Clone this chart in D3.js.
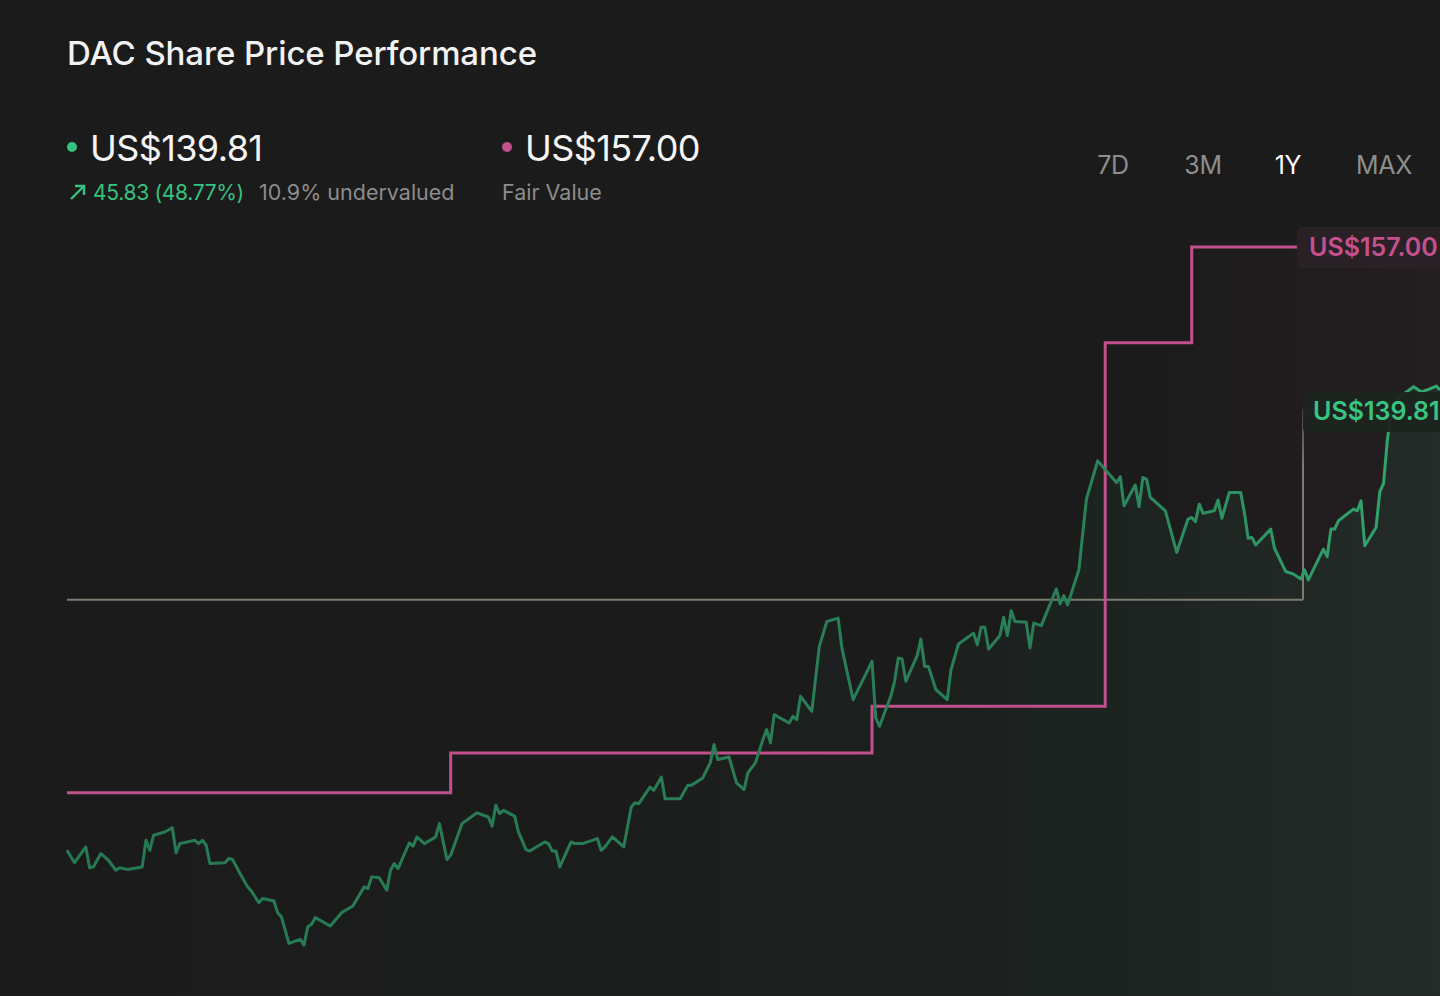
<!DOCTYPE html>
<html>
<head>
<meta charset="utf-8">
<script src="https://cdn.jsdelivr.net/npm/d3@7"></script>
<style>
  html, body { margin: 0; padding: 0; background: #1b1b1b; }
  svg { display: block; }
  text { font-family: Inter, "Noto Sans", sans-serif; }
</style>
</head>
<body>
<svg id="chart" width="1440" height="996"></svg>
<script>
// ---------------- DATA ----------------
const title = "DAC Share Price Performance";
const currentPrice = 139.81;
const priceChange = 45.83;
const priceChangePct = 48.77;
const fairValue = 157.00;
const undervaluedPct = 10.9;
const rangeButtons = ["7D", "3M", "1Y", "MAX"];
const activeRange = "1Y";

// days since start of the 1Y window
const priceDays = [0,2,5,6,7,9,11,13,14,16,20,21,22,23,26,28,29,30,34,35,36,37,38,42,43,44,46,48,49,51,52,55,56,57,59,62,63,64,65,66,70,73,76,79,80,81,83,85,86,87,88,91,92,93,95,98,99,101,102,105,109,112,113,114,115,116,119,120,122,123,127,128,129,130,131,134,135,137,141,142,143,145,148,150,151,152,155,156,157,158,159,163,165,166,169,171,172,173,176,178,180,181,183,185,186,187,188,192,193,194,195,198,200,202,205,206,209,214,215,216,219,220,221,222,223,226,227,228,229,231,234,235,237,241,242,243,244,245,248,249,250,251,252,255,256,257,259,263,264,265,266,269,271,274,279,280,281,284,285,286,287,288,292,295,298,299,300,301,302,305,306,307,309,312,313,314,315,316,320,321,324,326,328,329,330,334,335,336,337,338,342,343,344,345,348,349,350,351,352,354,358,360,362,364,365];
const priceValues = [84.5,83.0,84.9,82.4,82.5,84.1,83.3,82.1,82.4,82.2,82.5,85.7,84.5,86.3,86.7,87.2,84.2,85.3,85.7,85.3,85.7,85.1,82.9,83.0,83.5,83.4,81.7,80.1,79.6,78.2,78.7,78.4,77.0,76.5,73.3,73.8,73.1,75.3,75.6,76.4,75.4,77.0,77.8,80.1,79.9,81.3,81.2,79.7,82.1,82.9,82.3,85.4,85.0,86.1,85.3,86.1,87.7,83.4,83.9,87.7,89.0,88.5,87.4,89.9,88.9,89.3,88.6,86.7,84.6,84.4,85.5,85.3,84.4,84.4,82.5,85.5,85.3,85.3,85.9,84.5,84.9,86.1,84.9,89.7,90.2,90.1,92.1,91.7,92.5,93.3,90.7,90.7,92.3,92.3,93.2,95.0,97.2,95.4,95.7,92.6,91.8,93.8,95.0,97.8,99.0,97.4,100.8,99.8,100.6,100.2,103.0,101.2,109.0,112.0,112.4,108.8,102.6,107.2,100.4,99.4,103.0,104.8,107.6,107.5,104.8,107.9,109.9,106.6,106.6,103.8,102.6,106.2,109.3,110.6,109.2,111.3,111.3,108.7,110.3,112.5,110.3,113.3,112.0,111.9,108.8,111.8,111.5,115.9,114.1,115.1,114.0,118.2,126.7,131.3,128.7,129.4,125.9,128.4,125.8,129.3,129.1,126.9,125.3,120.3,124.3,124.5,124.0,126.1,125.0,125.3,126.6,124.4,127.5,127.5,125.1,122.0,122.1,121.2,123.1,120.8,118.0,117.7,117.1,118.2,117.0,120.7,119.8,123.1,123.1,124.1,125.5,125.3,126.5,121.1,123.3,127.6,128.6,133.8,137.4,138.9,140.2,139.6,139.9,140.3,139.81];

// fair value estimate history (step changes)
const fairDays = [0,102,214,276,299,327];
const fairValues = [91.4,96.2,101.8,145.5,157.0,157.0];

// level of the price-label leader line
const leaderValue = 114.6;

// ---------------- LAYOUT ----------------
const W = 1440, H = 996;
const svg = d3.select("#chart");
const x = d3.scaleLinear().domain([0, 365]).range([67, 1440]);
const y = d3.scaleLinear().domain([70, 160]).range([970.9, 222.1]);

const defs = svg.append("defs");
const gStroke = defs.append("linearGradient").attr("id","gStroke")
  .attr("gradientUnits","userSpaceOnUse").attr("x1",67).attr("x2",1440).attr("y1",0).attr("y2",0);
gStroke.append("stop").attr("offset","0").attr("stop-color","#267a53");
gStroke.append("stop").attr("offset","0.72").attr("stop-color","#297f57");
gStroke.append("stop").attr("offset","1").attr("stop-color","#33a870");

const gArea = defs.append("linearGradient").attr("id","gArea")
  .attr("gradientUnits","userSpaceOnUse").attr("x1",67).attr("x2",1440).attr("y1",0).attr("y2",0);
gArea.append("stop").attr("offset","0").attr("stop-color","#2a9a64").attr("stop-opacity",0.0);
gArea.append("stop").attr("offset","0.6").attr("stop-color","#2a9a64").attr("stop-opacity",0.035);
gArea.append("stop").attr("offset","1").attr("stop-color","#2a9a64").attr("stop-opacity",0.11);

const pArea = defs.append("linearGradient").attr("id","pArea")
  .attr("gradientUnits","userSpaceOnUse").attr("x1",1100).attr("x2",1440).attr("y1",0).attr("y2",0);
pArea.append("stop").attr("offset","0").attr("stop-color","#c2508c").attr("stop-opacity",0.0);
pArea.append("stop").attr("offset","1").attr("stop-color","#c2508c").attr("stop-opacity",0.05);

const leaderGrad = defs.append("linearGradient").attr("id","leaderGrad")
  .attr("gradientUnits","userSpaceOnUse").attr("x1",0).attr("x2",0).attr("y1",y(currentPrice)+20).attr("y2",y(leaderValue));
leaderGrad.append("stop").attr("offset","0").attr("stop-color","#7d7b70").attr("stop-opacity",0.4);
leaderGrad.append("stop").attr("offset","0.3").attr("stop-color","#7d7b70").attr("stop-opacity",1);
leaderGrad.append("stop").attr("offset","1").attr("stop-color","#7d7b70").attr("stop-opacity",1);

svg.append("rect").attr("width",W).attr("height",H).attr("fill","#1b1b1b");

// ---------- header ----------
svg.append("text").attr("x",67).attr("y",65).attr("fill","#f2f2f2")
  .attr("font-size",33).attr("font-weight",500).attr("letter-spacing","-0.1").text(title);

svg.append("circle").attr("cx",72).attr("cy",147).attr("r",5).attr("fill","#36c27f");
svg.append("text").attr("x",90).attr("y",161).attr("fill","#f5f5f5")
  .attr("font-size",36).attr("font-weight",400).attr("letter-spacing","-0.6")
  .text("US$" + currentPrice.toFixed(2));

svg.append("path").attr("d","M71,199 L84,186 M75,186 L84,186 L84,195")
  .attr("stroke","#36c27f").attr("stroke-width",2.4).attr("fill","none");
svg.append("text").attr("x",93).attr("y",200).attr("fill","#36c27f")
  .attr("font-size",21).attr("letter-spacing","-0.3")
  .text(priceChange.toFixed(2) + " (" + priceChangePct.toFixed(2) + "%)");
svg.append("text").attr("x",259).attr("y",200).attr("fill","#8c8c8c")
  .attr("font-size",21.5).attr("letter-spacing","0")
  .text(undervaluedPct.toFixed(1) + "% undervalued");

svg.append("circle").attr("cx",507).attr("cy",147).attr("r",5).attr("fill","#c2508c");
svg.append("text").attr("x",525).attr("y",161).attr("fill","#f5f5f5")
  .attr("font-size",36).attr("font-weight",400).attr("letter-spacing","-0.6")
  .text("US$" + fairValue.toFixed(2));
svg.append("text").attr("x",502).attr("y",200).attr("fill","#8c8c8c")
  .attr("font-size",21.5).attr("letter-spacing","0").text("Fair Value");

const btnCenters = [1113, 1203, 1288, 1384];
svg.selectAll("text.btn").data(rangeButtons).join("text").attr("class","btn")
  .attr("x",(d,i)=>btnCenters[i]).attr("y",174).attr("text-anchor","middle")
  .attr("font-size",25).attr("letter-spacing","-0.3")
  .attr("fill",d=> d===activeRange ? "#ffffff" : "#8e8e8e").text(d=>d);

// ---------- chart ----------
const price = priceDays.map((d,i)=>({d, v: priceValues[i]}));
const fair = fairDays.map((d,i)=>({d, v: fairValues[i]}));
const fairExt = fair.concat([{d: 365, v: fairValue}]);

// fair value area (subtle)
svg.append("path").datum(fairExt)
  .attr("d", d3.area().curve(d3.curveStepAfter).x(p=>x(p.d)).y0(H).y1(p=>y(p.v)))
  .attr("fill","url(#pArea)");

// price area
svg.append("path").datum(price)
  .attr("d", d3.area().x(p=>x(p.d)).y0(H).y1(p=>y(p.v)))
  .attr("fill","url(#gArea)");

// leader line for current price label
const labelX = 1303;
svg.append("path")
  .attr("d", `M${x(0)},${y(leaderValue)} H${labelX}`)
  .attr("stroke","#7d7b70").attr("stroke-width",2).attr("fill","none");
svg.append("path")
  .attr("d", `M${labelX},${y(leaderValue)} V${y(currentPrice)+20} H${labelX+8}`)
  .attr("stroke","url(#leaderGrad)").attr("stroke-width",2).attr("fill","none");

// fair value step line
svg.append("path").datum(fair)
  .attr("d", d3.line().curve(d3.curveStepAfter).x(p=>x(p.d)).y(p=>y(p.v)))
  .attr("stroke","#c2508c").attr("stroke-width",3).attr("fill","none");

// price line
svg.append("path").datum(price)
  .attr("d", d3.line().x(p=>x(p.d)).y(p=>y(p.v)))
  .attr("stroke","url(#gStroke)").attr("stroke-width",3).attr("fill","none")
  .attr("stroke-linejoin","round");

// fair value label
const fvLabelX = x(fairDays[fairDays.length-1]);
svg.append("rect").attr("x",fvLabelX).attr("y",y(fairValue)-20).attr("width",170).attr("height",41)
  .attr("rx",4).attr("fill","#2a2126");
svg.append("text").attr("x",fvLabelX+12).attr("y",y(fairValue)+9)
  .attr("fill","#c4508d").attr("font-size",25).attr("font-weight",600).attr("letter-spacing","0")
  .text("US$" + fairValue.toFixed(2));

// current price label
svg.append("rect").attr("x",labelX).attr("y",y(currentPrice)+2).attr("width",160).attr("height",40)
  .attr("rx",4).attr("fill","#1d2420").attr("opacity",0.95);
svg.append("text").attr("x",labelX+10).attr("y",y(currentPrice)+30)
  .attr("fill","#38c481").attr("font-size",25).attr("font-weight",600).attr("letter-spacing","0")
  .text("US$" + currentPrice.toFixed(2));
</script>
</body>
</html>
